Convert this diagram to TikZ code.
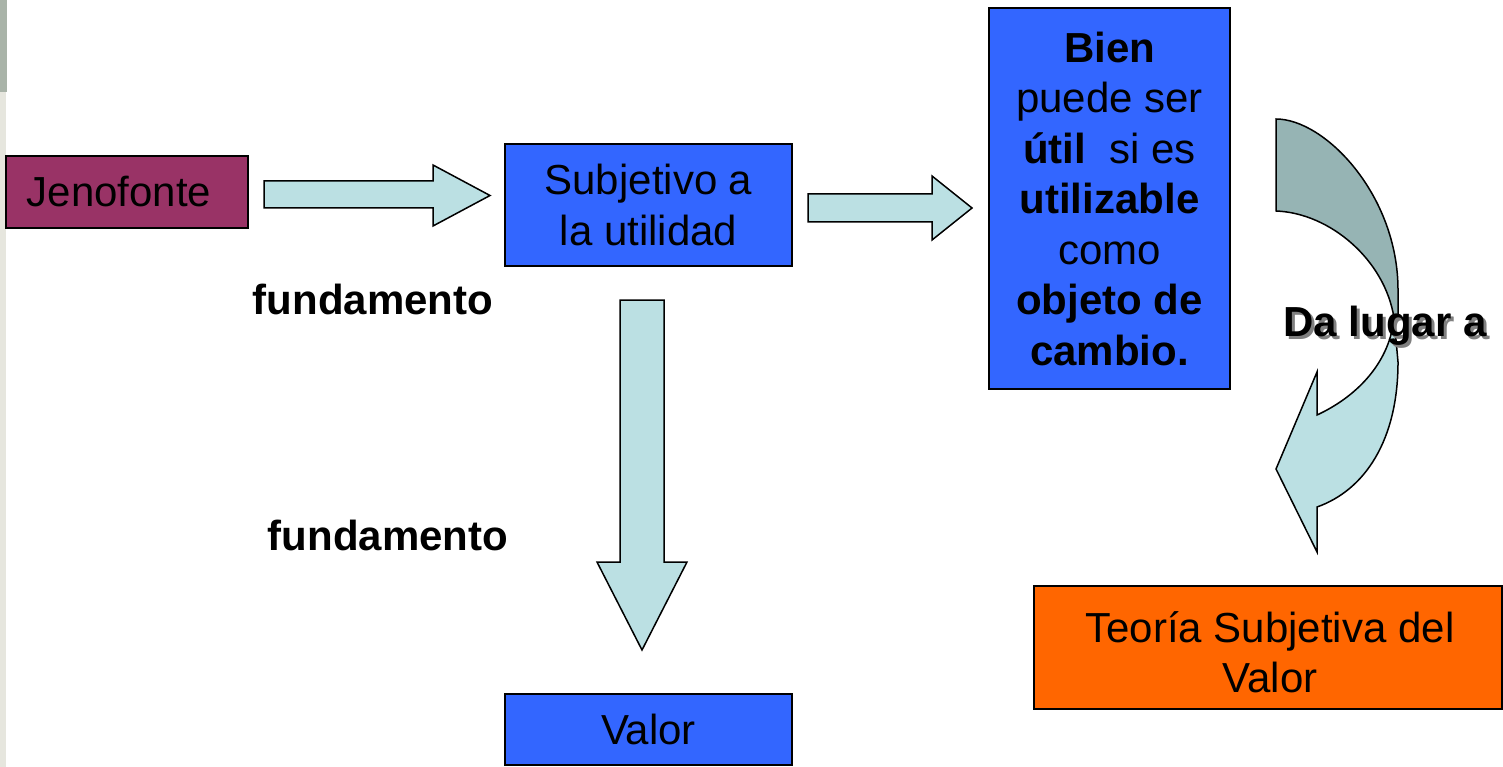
\documentclass[tikz,border=0pt]{standalone}
\usepackage{fontspec}
\setmainfont{Liberation Sans}
\definecolor{jen}{HTML}{993366}
\definecolor{blu}{HTML}{3366FF}
\definecolor{arr}{HTML}{BBE0E3}
\definecolor{arrdark}{HTML}{96B4B4}
\definecolor{ora}{HTML}{FF6600}
\definecolor{bgtop}{HTML}{A9B3A8}
\definecolor{bgbot}{HTML}{E6E6DE}
\tikzset{
  box/.style={draw=black, line width=1.5pt, inner sep=0pt, align=center, text=black,
    font=\fontsize{42}{50.5}\selectfont},
  blockarrow/.style={draw=black, line width=1.5pt, fill=arr, line join=miter},
  lbl/.style={font=\fontsize{42}{50.5}\selectfont\bfseries, text=black, inner sep=0pt}
}
\begin{document}
\begin{tikzpicture}[x=1pt,y=-1pt]
\useasboundingbox (0,0) rectangle (1503,767);
% faint slide background at the left edge
\fill[bgtop] (0,0) rectangle (7,92);
\fill[bgbot] (0,92) rectangle (6,767);

% boxes
\node[box, fill=jen, minimum width=242pt, minimum height=72pt] (jen) at (127,192) {\hspace*{-16pt}Jenofonte};
\node[box, fill=blu, minimum width=287pt, minimum height=122pt] (sub) at (648.5,205) {Subjetivo a\\la utilidad};
\node[box, fill=blu, minimum width=241pt, minimum height=381pt] (bien) at (1109.5,198.5)
  {\textbf{Bien}\\puede ser\\\textbf{útil}\ \ si es\\\textbf{utilizable}\\como\\\textbf{objeto de}\\\textbf{cambio.}};
\node[box, fill=blu, minimum width=287pt, minimum height=71pt] (val) at (648.5,729.5) {Valor};
\node[box, fill=ora, minimum width=468pt, minimum height=123pt] (teo) at (1268,647.5) {};
\node[box, draw=none, align=center] (teot) at (1270,652) {Teoría Subjetiva del\\Valor};

% block arrows
\draw[blockarrow] (264,181) -- (433,181) -- (433,165) -- (490,195.5) -- (433,226) -- (433,208) -- (264,208) -- cycle;
\draw[blockarrow] (808,194) -- (932,194) -- (932,176) -- (972,208) -- (932,240) -- (932,222) -- (808,222) -- cycle;
\draw[blockarrow] (620,300) -- (664,300) -- (664,562) -- (687,562) -- (642,650) -- (597,562) -- (620,562) -- cycle;

% curved arrow (light front part)
\draw[blockarrow] (1394,318) -- (1398,362)
  .. controls (1398,440) and (1365,490) .. (1317,507)
  -- (1317,552) -- (1276,469) -- (1317,372) -- (1317,415)
  .. controls (1360,395) and (1390,360) .. (1394,318) -- cycle;
% curved arrow (dark back part)
\draw[blockarrow, fill=arrdark] (1276,119)
  .. controls (1325,119) and (1398,195) .. (1398,290)
  -- (1398,318) -- (1394,318)
  .. controls (1385,260) and (1330,213) .. (1276,211) -- cycle;

% labels
\node[lbl] (f1) at (373,299) {fundamento};
\node[lbl] (f2) at (388,535) {fundamento};
\node[lbl, text=black!50] at (1388,328.5) {Da lugar a};
\node[lbl] (dl) at (1385,326) {Da lugar a};
\end{tikzpicture}
\end{document}
